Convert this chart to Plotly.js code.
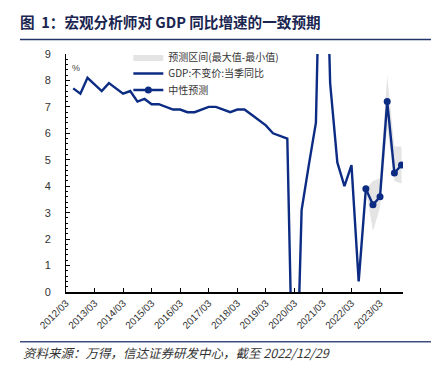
<!DOCTYPE html>
<html><head><meta charset="utf-8">
<script src="https://cdn.plot.ly/plotly-3.0.1.min.js"></script>
<style>html,body{margin:0;padding:0;background:#fff}#chart{width:437px;height:371px}</style>
</head><body><div id="chart"></div>
<script>
// Actual GDP (constant price, quarterly YoY, %)
const gdpDates = [
  "2012-06-01","2012-09-01","2012-12-01",
  "2013-03-01","2013-06-01","2013-09-01","2013-12-01",
  "2014-03-01","2014-06-01","2014-09-01","2014-12-01",
  "2015-03-01","2015-06-01","2015-09-01","2015-12-01",
  "2016-03-01","2016-06-01","2016-09-01","2016-12-01",
  "2017-03-01","2017-06-01","2017-09-01","2017-12-01",
  "2018-03-01","2018-06-01","2018-09-01","2018-12-01",
  "2019-03-01","2019-06-01","2019-09-01","2019-12-01",
  "2020-03-01","2020-06-01","2020-09-01","2020-12-01",
  "2021-03-01","2021-06-01","2021-09-01","2021-12-01",
  "2022-03-01","2022-06-01","2022-09-01"
];
const gdpValues = [
  7.7, 7.5, 8.1,
  7.85, 7.6, 7.9, 7.7,
  7.5, 7.6, 7.2, 7.3,
  7.1, 7.1, 7.0, 6.9,
  6.9, 6.8, 6.8, 6.9,
  7.0, 7.0, 6.9, 6.8,
  6.9, 6.9, 6.7, 6.5,
  6.3, 6.0, 5.9, 5.8,
  -6.8, 3.1, 4.8, 6.4,
  18.3, 7.9, 4.9, 4.0,
  4.8, 0.4, 3.9
];
// Forecasts
const fcDates = ["2022-09-01","2022-12-01","2023-03-01","2023-06-01","2023-09-01","2023-12-01"];
const fcMid = [3.9, 3.3, 3.6, 7.2, 4.5, 4.8];
const fcMax = [3.9, 4.2, 4.3, 8.2, 5.5, 5.5];
const fcMin = [3.9, 2.3, 3.2, 6.2, 4.2, 4.1];

const navy = "#0c2c84";
const cjk = "Noto Sans CJK SC, Liberation Sans, sans-serif";
const legFont = {family: cjk, size: 10, color: "#333"};

const traces = [
  {x: fcDates, y: fcMin, type: "scatter", mode: "lines", line: {width: 0, color: "#e4e4e4"},
   showlegend: false, hoverinfo: "skip", legendgroup: "band"},
  {x: fcDates, y: fcMax, type: "scatter", mode: "lines", line: {width: 0, color: "#e4e4e4"},
   fill: "tonexty", fillcolor: "#e4e4e4", name: "预测区间(最大值-最小值)", legendgroup: "band", legend: "legend"},
  {x: gdpDates, y: gdpValues, type: "scatter", mode: "lines", line: {width: 2.4, color: navy},
   name: "GDP:不变价:当季同比", legend: "legend2"},
  {x: fcDates, y: fcMid, type: "scatter", mode: "lines+markers", line: {width: 2.4, color: navy},
   marker: {size: 7, color: navy}, name: "中性预测", legend: "legend3"}
];

const legX = 0.185;
const layout = {
  width: 437, height: 371,
  margin: {l: 66, r: 34, t: 54, b: 79},
  paper_bgcolor: "#fff", plot_bgcolor: "#fff",
  showlegend: true,
  title: {text: "图  1：宏观分析师对 GDP 同比增速的一致预期", x: 20/437, xref: "container", xanchor: "left",
          y: 1 - 22.7/371, yref: "container", yanchor: "middle",
          font: {family: cjk, size: 14.6, weight: "bold", color: "#1a2550"}},
  legend: {x: legX, y: 0.9874, xanchor: "left", yanchor: "middle", bgcolor: "rgba(0,0,0,0)", font: legFont},
  legend2: {x: legX, y: 0.918, xanchor: "left", yanchor: "middle", bgcolor: "rgba(0,0,0,0)", font: legFont},
  legend3: {x: legX, y: 0.8487, xanchor: "left", yanchor: "middle", bgcolor: "rgba(0,0,0,0)", font: legFont},
  xaxis: {type: "date", range: ["2012-03-01", "2023-12-20"], tick0: "2012-03-01", dtick: "M12",
          tickformat: "%Y/%m", tickangle: -45, ticks: "inside", ticklen: 4, tickcolor: "#000",
          showline: true, linecolor: "#000", linewidth: 1.5, showgrid: false, zeroline: false,
          tickfont: {family: "Liberation Sans, Arial, sans-serif", size: 10, color: "#333"}},
  yaxis: {range: [0, 9], dtick: 1, tick0: 0, ticks: "inside", ticklen: 4, tickcolor: "#000",
          minor: {dtick: 0.2, ticks: "inside", ticklen: 2, tickcolor: "#000", showgrid: false},
          showline: true, linecolor: "#000", linewidth: 1, showgrid: false, zeroline: false,
          ticklabelstandoff: 12,
          tickfont: {family: "Liberation Sans, Arial, sans-serif", size: 11, color: "#333"}},
  shapes: [
    {type: "line", xref: "paper", yref: "paper", x0: -0.1365, x1: 1.083, y0: 1.061, y1: 1.061,
     line: {color: "#22346a", width: 1.5}},
    {type: "line", xref: "paper", yref: "paper", x0: -0.1365, x1: 1.083, y0: -0.209, y1: -0.209,
     line: {color: "#3d4f80", width: 1.5}}
  ],
  annotations: [
    {text: "%", xref: "paper", yref: "paper", x: 0.012, y: 0.97, showarrow: false,
     font: {family: "Liberation Sans, Arial, sans-serif", size: 9, color: "#444"}},
    {text: "资料来源：万得，信达证券研发中心，截至 2022/12/29", xref: "paper", yref: "paper",
     x: -0.1335, y: -0.256, xanchor: "left", yanchor: "middle", showarrow: false,
     font: {family: cjk, size: 12.5, style: "italic", color: "#333"}}
  ]
};

Plotly.newPlot("chart", traces, layout, {displayModeBar: false, staticPlot: true});
</script>
</body></html>
